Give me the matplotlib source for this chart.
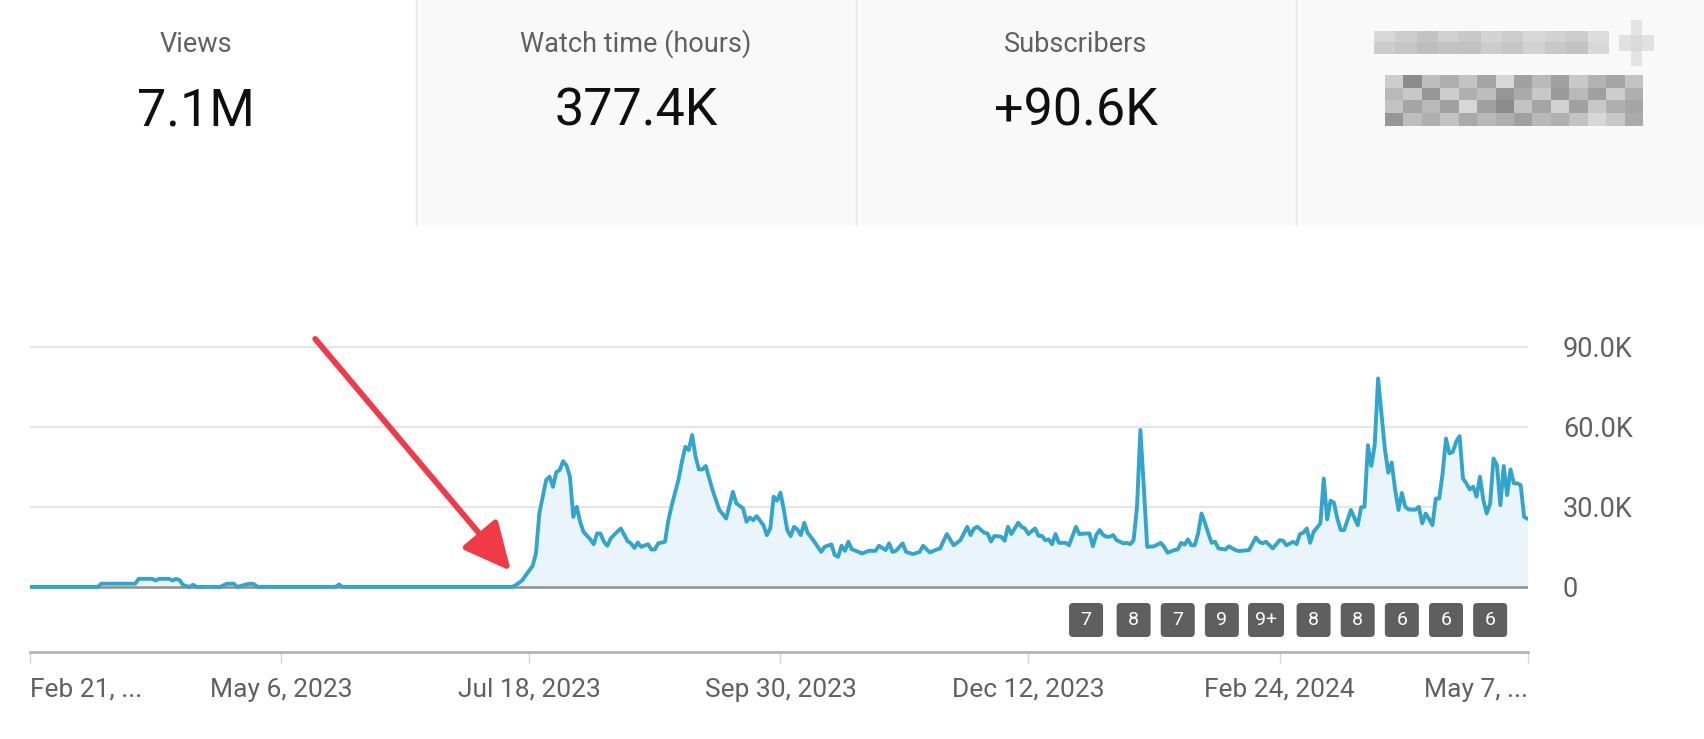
import numpy as np
import pandas as pd
import matplotlib
matplotlib.use('Agg')
import matplotlib.pyplot as plt
from matplotlib.patches import Rectangle, FancyBboxPatch
from matplotlib.transforms import IdentityTransform
import matplotlib.dates as mdates

plt.rcParams['font.family'] = ['Roboto', 'DejaVu Sans']

# daily views (thousands); offsets are days after Feb 21, 2023
start = pd.Timestamp('2023-02-21')
day_offsets = [0, 20, 21, 31, 32, 36, 37, 38, 41, 42, 43, 44, 45, 46, 47, 48, 49, 56, 57, 58, 60, 61,
               64, 65, 66, 67, 90, 91, 92, 142, 143, 145, 146, 148, 149, 150, 152, 153, 154, 155, 156,
               157, 158, 159, 160, 161, 162, 163, 165, 166, 167, 168, 169, 170, 171, 172, 174, 176, 177,
               178, 179, 180, 182, 183, 184, 185, 187, 188, 189, 191, 192, 193, 194, 195, 196, 197, 198,
               199, 201, 203, 204, 205, 207, 208, 210, 211, 212, 213, 214, 216, 217, 218, 219, 220, 221,
               222, 223, 224, 225, 226, 227, 228, 229, 231, 233, 234, 236, 237, 238, 239, 240, 241, 242,
               244, 245, 247, 249, 250, 252, 253, 254, 255, 257, 258, 260, 262, 263, 265, 267, 268, 270,
               272, 274, 276, 277, 278, 279, 281, 282, 283, 284, 286, 287, 288, 289, 291, 292, 293, 294,
               296, 297, 298, 299, 300, 301, 302, 303, 305, 306, 308, 309, 311, 312, 313, 314, 315, 316,
               317, 318, 319, 320, 321, 322, 323, 324, 325, 326, 327, 328, 329, 331, 333, 334, 335, 337,
               338, 339, 340, 341, 342, 343, 344, 345, 346, 347, 348, 349, 350, 352, 353, 355, 356, 359,
               361, 362, 363, 364, 366, 368, 369, 370, 372, 373, 374, 375, 376, 377, 378, 380, 381, 382,
               383, 384, 385, 386, 387, 389, 390, 391, 392, 393, 394, 395, 396, 397, 399, 400, 401, 402,
               403, 404, 405, 406, 408, 409, 410, 411, 412, 413, 414, 415, 416, 417, 418, 419, 420, 421,
               422, 423, 424, 425, 426, 427, 428, 429, 430, 431, 432, 433, 434, 435, 436, 437, 438, 439,
               440, 441]
views_k = [0, 0, 1.2, 1.2, 3.0, 3.0, 2.4, 3.0, 3.0, 2.4, 3.0, 2.6, 0.8, 0.3, 0, 0.8, 0, 0, 0.6, 1.2, 1.2, 0,
           1.0, 1.2, 1.0, 0, 0, 0.9, 0, 0, 0.6, 2.5, 4.4, 7.8, 12.6, 27.6, 40, 41.3, 37.5, 43, 43.8,
           47.1, 45.5, 41.3, 26.2, 30, 24.4, 20.6, 17.8, 16, 20, 20, 16.9, 15.4, 18.1, 19.5, 21.9, 17.1, 16.3,
           14.6, 16.6, 15, 16, 14, 14, 16.3, 16.9, 25, 30.6, 40.3, 47, 52.5, 51.3, 56.9, 48.8, 44, 44,
           45.3, 36.3, 28.8, 27.3, 25.6, 35.6, 31.3, 29.4, 24.4, 26, 25, 26.5, 23.1, 19.4, 21.9, 33.8, 32.3, 35.3,
           28.8, 21.3, 19, 22.5, 21.5, 19.4, 24, 20.3, 16.9, 13.1, 15, 15.9, 11.9, 11.3, 15.4, 13.5, 16.9, 14.1,
           13.1, 12.5, 13.5, 13.5, 15.4, 13.8, 16.3, 13.1, 13.5, 16.3, 13.1, 12.3, 13.1, 15.4, 12.9, 14, 14.4, 19.8,
           15.6, 17.5, 22.5, 19.4, 21.9, 22.5, 20.3, 20, 17, 19.1, 18.8, 17.3, 22.5, 19.8, 24, 22.5, 21.9, 19.8,
           21.9, 19.1, 19.1, 17.5, 17.8, 16, 19.8, 16.5, 16.5, 15.6, 22.5, 19.8, 20, 20, 15.2, 19.4, 21.3, 19.5,
           18.8, 18.8, 19.4, 17.5, 16.9, 16.3, 16.5, 16, 17.5, 30, 58.8, 37.5, 15, 15.2, 16.5, 15, 12.8, 13.8,
           14, 16.5, 15.8, 17.8, 15.6, 15.6, 20, 27.5, 24, 20, 16.5, 16.9, 14.4, 14, 15.2, 13.8, 13.4, 13.8,
           18.5, 16.9, 16.3, 16.9, 14.4, 17.5, 17.3, 15.6, 16.9, 16, 19.8, 20.3, 21.9, 16.5, 20.6, 23.8, 40.6, 25.3,
           32.3, 31.5, 25.6, 21.3, 21.3, 28.8, 26, 23.1, 29.8, 30, 53.1, 45.3, 53.1, 78.1, 51.6, 42.8, 46.6, 36.6,
           28.8, 35.2, 30, 29, 28.9, 30, 23.8, 27.5, 25.5, 23.1, 33.1, 33.1, 42.5, 55.6, 50, 50.6, 54.4, 56.5,
           40.6, 38.8, 36.5, 37.5, 33.8, 41.3, 32.5, 27.5, 31.3, 48.1, 45.6, 30.6, 45.3, 34.4, 44, 38.8, 38.8, 38.1,
           26.2, 25.6]

tick_dates = ['2023-02-21', '2023-05-06', '2023-07-18', '2023-09-30', '2023-12-12', '2024-02-24', '2024-05-07']
tick_labels = ['Feb 21, ...', 'May 6, 2023', 'Jul 18, 2023', 'Sep 30, 2023', 'Dec 12, 2023', 'Feb 24, 2024', 'May 7, ...']
y_ticks = [0, 30, 60, 90]
y_labels = ['0', '30.0K', '60.0K', '90.0K']

card_titles = ['Views', 'Watch time (hours)', 'Subscribers']
card_values = ['7.1M', '377.4K', '+90.6K']

# published-video markers under the chart
badge_offsets = [311, 325, 338, 351, 364, 378, 391, 404, 417, 430]
badge_labels = ['7', '8', '7', '9', '9+', '8', '8', '6', '6', '6']

# redacted card (pixelated in the screenshot)
title_blur = [[215, 205, 195, 208, 200, 212, 205, 216, 210, 205, 220],
              [205, 198, 190, 196, 194, 204, 198, 210, 200, 196, 216]]
value_blur = [[205, 140, 190, 175, 195, 165, 215, 160, 185, 160, 200, 180, 165, 195],
              [185, 200, 150, 205, 175, 190, 150, 170, 200, 155, 185, 160, 205, 175],
              [195, 165, 185, 160, 215, 160, 140, 195, 165, 210, 160, 200, 175, 165],
              [150, 190, 175, 195, 170, 185, 175, 160, 185, 175, 195, 215, 200, 170]]
icon_blur = [[np.nan, 228, np.nan], [225, 218, 225], [np.nan, 228, np.nan]]

W, H = 1704, 739
fig = plt.figure(figsize=(W / 100, H / 100), dpi=100)


def fx(px):
    return px / W


def fy(py):
    return 1 - py / H


# metric cards
for x0, x1 in [(416, 856), (856, 1296), (1296, 1704)]:
    fig.patches.append(Rectangle((fx(x0), fy(225)), fx(x1 - x0), 225 / H, transform=fig.transFigure,
                                 facecolor='#f9f9f9', edgecolor='none', zorder=-2))
    fig.add_artist(plt.Line2D([fx(x0), fx(x0)], [fy(225), 1], color='#e4e4e4', lw=1, zorder=-1))

for x, t, v in zip([196, 636, 1076], card_titles, card_values):
    fig.text(fx(x), fy(52), t, ha='center', va='baseline', fontsize=19.5, color='#606060')
    fig.text(fx(x), fy(125), v, ha='center', va='baseline', fontsize=37.5, color='#0f0f0f')

for blocks, (x0, x1, y0, y1) in [(title_blur, (1374, 1608, 31, 54)),
                                 (value_blur, (1385, 1643, 75, 126)),
                                 (icon_blur, (1619, 1654, 20, 66))]:
    bax = fig.add_axes([fx(x0), fy(y1), fx(x1 - x0), (y1 - y0) / H])
    bax.imshow(np.array(blocks, dtype=float), cmap='gray', vmin=0, vmax=255,
               interpolation='nearest', aspect='auto')
    bax.axis('off')

# chart
ax = fig.add_axes([fx(30), fy(652), fx(1527.5 - 30), (652 - 320) / H])
ax.patch.set_alpha(0)
dates = start + pd.to_timedelta(day_offsets, unit='D')
ax.fill_between(dates, views_k, 0, color='#eaf5fb', lw=0, zorder=1)
ax.plot(dates, views_k, color='#33a5cd', lw=2.8, zorder=4)

for y in y_ticks[1:]:
    ax.axhline(y, color='#e6e6e6', lw=1.6, zorder=0)
ax.axhline(0, color='#8f8f8f', lw=1.8, zorder=2)

ax.set_xlim(start, start + pd.Timedelta(days=441))
ax.set_ylim(-24.4, 100)
for s in ['top', 'left', 'right']:
    ax.spines[s].set_visible(False)
ax.spines['bottom'].set_color('#b3b3b3')
ax.spines['bottom'].set_linewidth(2)

ax.set_xticks(pd.to_datetime(tick_dates))
ax.set_xticklabels(tick_labels)
ax.tick_params(axis='x', direction='out', length=8, width=1, color='#d6d6d6',
               labelsize=19, labelcolor='#606060', pad=10.5)
xl = ax.get_xticklabels()
xl[0].set_ha('left')
xl[-1].set_ha('right')

ax.yaxis.tick_right()
ax.set_yticks(y_ticks)
ax.set_yticklabels(y_labels)
ax.tick_params(axis='y', length=0, labelsize=19.5, labelcolor='#606060', pad=25.5)

ax.annotate('', xy=(start + pd.Timedelta(days=141.6), 6.0), xytext=(start + pd.Timedelta(days=84), 92.9),
            arrowprops=dict(arrowstyle='-|>,head_length=2.9,head_width=1.4', color='#f03a48', lw=4.2,
                            shrinkA=0, shrinkB=0, mutation_scale=10),
            annotation_clip=False, zorder=6)

# badges: centred on their dates, fixed pixel size
badge_dates = start + pd.to_timedelta(badge_offsets, unit='D')
for d, lab in zip(badge_dates, badge_labels):
    px = ax.transData.transform((mdates.date2num(d), 0))[0]
    py = H - 620
    w = 34 if len(lab) == 1 else 36
    fig.add_artist(FancyBboxPatch((px - w / 2, py - 17), w, 34, boxstyle='round,pad=0,rounding_size=4',
                                  transform=IdentityTransform(), facecolor='#5f5f5f', edgecolor='none'))
    fig.text(px, py, lab, transform=IdentityTransform(), ha='center', va='center',
             fontsize=14, color='white')

fig.savefig('out.png', dpi=100)
